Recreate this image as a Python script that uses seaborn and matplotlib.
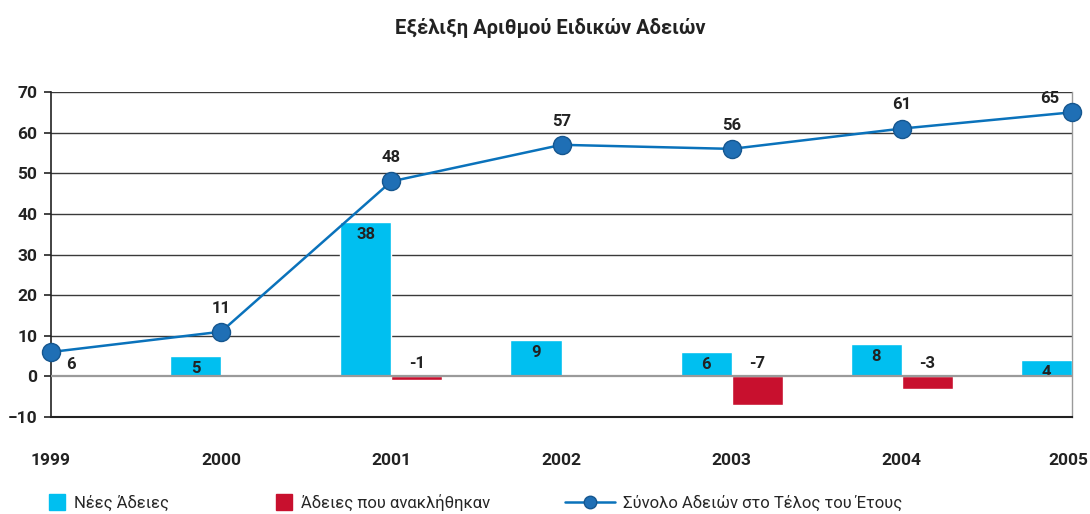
import numpy as np
import pandas as pd
import matplotlib
matplotlib.use('Agg')
import matplotlib.pyplot as plt
import matplotlib.transforms as mtransforms
import seaborn as sns
from matplotlib.lines import Line2D

years = [1999, 2000, 2001, 2002, 2003, 2004, 2005]
new_permits = [np.nan, 5, 38, 9, 6, 8, 4]
revoked = [np.nan, np.nan, -1, np.nan, -7, -3, np.nan]
total = [6, 11, 48, 57, 56, 61, 65]

title = 'Εξέλιξη Αριθμού Ειδικών Αδειών'
lbl_new = 'Νέες Άδειες'
lbl_rev = 'Άδειες που ανακλήθηκαν'
lbl_tot = 'Σύνολο Αδειών στο Τέλος του Έτους'

c_new = '#00bff0'
c_rev = '#c8102e'
c_tot = '#0a72bb'

sns.set_theme(style='white')
plt.rcParams['font.family'] = ['Roboto', 'DejaVu Sans']

bars = pd.DataFrame({
    'year': years * 2,
    'value': new_permits + revoked,
    'series': [lbl_new] * len(years) + [lbl_rev] * len(years),
})
line = pd.DataFrame({'year': years, 'total': total})

fig = plt.figure(figsize=(10.9, 5.14), dpi=100)
ax = fig.add_axes([0.0468, 0.1887, 0.9367, 0.6323])

sns.barplot(data=bars, x='year', y='value', hue='series', native_scale=True,
            width=0.6, dodge=True, errorbar=None, saturation=1,
            palette={lbl_new: c_new, lbl_rev: c_rev}, legend=False, ax=ax, zorder=3)
sns.lineplot(data=line, x='year', y='total', color=c_tot, lw=1.8, marker='o',
             markersize=13, markerfacecolor='#1f6fb5', markeredgecolor='#15568f',
             markeredgewidth=1, ax=ax, zorder=5, clip_on=False)

ax.set_xlim(years[0], years[-1])
ax.set_ylim(-10, 70)
ax.set_yticks(range(-10, 71, 10))
ax.set_xticks(years)
ax.set_xlabel('')
ax.set_ylabel('')
for y in range(10, 71, 10):
    ax.axhline(y, color='#3a3a3a', lw=1, zorder=1)
ax.axhline(0, color='#9a9a9a', lw=1.6, zorder=4)

ax.spines['top'].set_visible(False)
ax.spines['left'].set_color('#222222')
ax.spines['left'].set_linewidth(1.2)
ax.spines['bottom'].set_color('#222222')
ax.spines['bottom'].set_linewidth(1.5)
ax.spines['right'].set_color('#9a9a9a')
ax.spines['right'].set_linewidth(1)

ax.tick_params(axis='y', left=True, length=5, width=1.2, color='#222222',
               labelsize=12.5, pad=5)
ax.tick_params(axis='x', bottom=False, length=0, labelsize=12.5, pad=26)
for t in ax.get_xticklabels() + ax.get_yticklabels():
    t.set_fontweight('bold')
    t.set_color('#222222')
# keep the last year label inside the picture
last = ax.get_xticklabels()[-1]
last.set_transform(last.get_transform() +
                   mtransforms.ScaledTranslation(-3 / 72, 0, fig.dpi_scale_trans))

lab = dict(fontsize=12, fontweight='bold', color='#222222', ha='center', va='center')
for x, v in zip(years, new_permits):
    if not np.isnan(v):
        ax.annotate(f'{v:g}', (x - 0.15, v), xytext=(0, -9), textcoords='offset points', **lab)
for x, v in zip(years, revoked):
    if not np.isnan(v):
        ax.annotate(f'{v:g}', (x + 0.15, 0), xytext=(0, 9), textcoords='offset points', **lab)
for i, (x, v) in enumerate(zip(years, total)):
    off = (0, 17)
    if i == 0:
        off = (14, -9)
    elif i == len(years) - 1:
        off = (-16, 10)
    ax.annotate(f'{v:g}', (x, v), xytext=off, textcoords='offset points', **lab)

fig.suptitle(title, x=0.505, y=0.965, fontsize=14.5, fontweight='bold', color='#222222')

h_new = Line2D([], [], ls='none', marker='s', markersize=11, color=c_new)
h_rev = Line2D([], [], ls='none', marker='s', markersize=11, color=c_rev)
h_tot = Line2D([], [], color=c_tot, lw=1.8, marker='o', markersize=9,
               markerfacecolor='#1f6fb5', markeredgecolor='#15568f')
leg_kw = dict(frameon=False, fontsize=12, loc='center left', handletextpad=0.5,
              borderaxespad=0, borderpad=0)
fig.legend([h_new], [lbl_new], bbox_to_anchor=(0.045, 0.022), handlelength=1, **leg_kw)
fig.legend([h_rev], [lbl_rev], bbox_to_anchor=(0.253, 0.022), handlelength=1, **leg_kw)
fig.legend([h_tot], [lbl_tot], bbox_to_anchor=(0.518, 0.022), handlelength=3, **leg_kw)

fig.savefig('out.png', dpi=100)
